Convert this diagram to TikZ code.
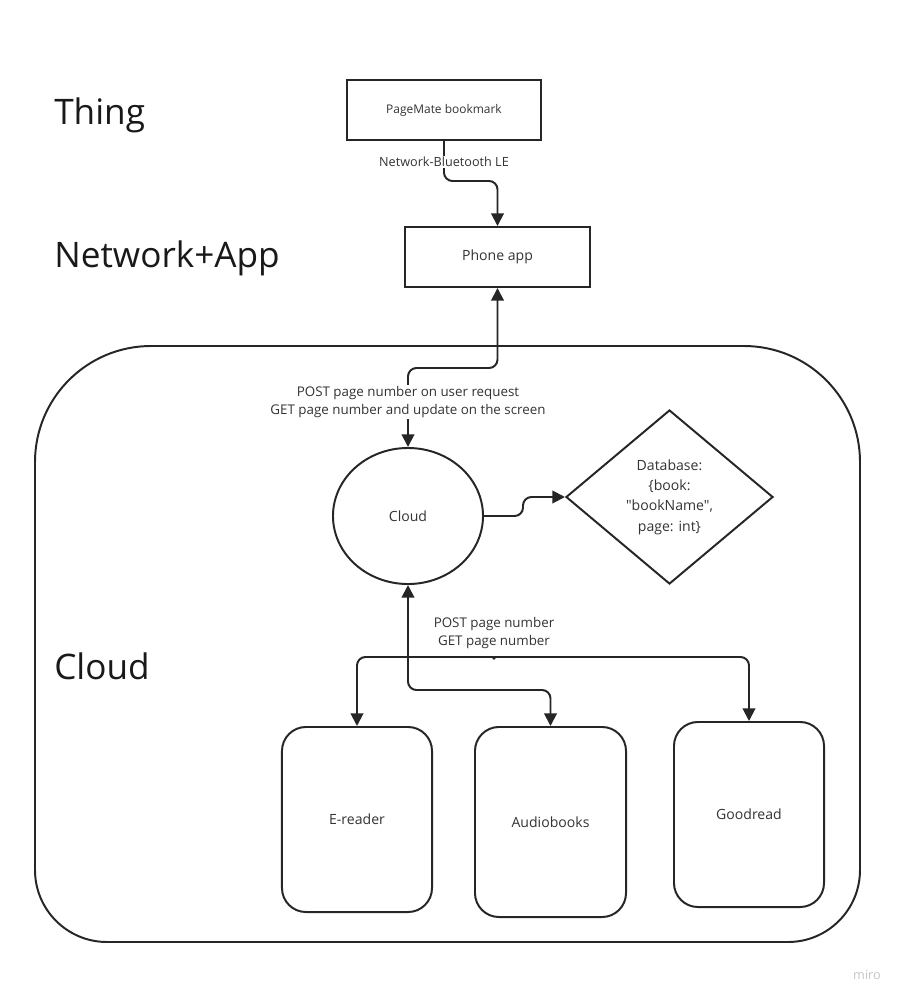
\documentclass[tikz,border=0pt]{standalone}
\usepackage{fontspec}
\setmainfont{Open Sans}[Ligatures=TeXOff]
\usepackage{tikz}
\usetikzlibrary{arrows.meta, positioning, shapes.geometric, calc}
\definecolor{mline}{HTML}{262626}
\definecolor{mtext}{HTML}{333333}
\definecolor{mwater}{HTML}{C4C4C4}
\tikzset{
  sqbox/.style={draw=mline, line width=1.4pt, fill=white, text=mtext, inner sep=0pt,
                font=\fontsize{10}{13}\selectfont},
  rbox/.style={draw=mline, line width=1.4pt, rounded corners=0.6cm, text=mtext,
               minimum width=3.75cm, minimum height=4.625cm, inner sep=0pt,
               font=\fontsize{10}{13}\selectfont},
  cnode/.style={draw=mline, line width=1.4pt, ellipse, text=mtext, inner sep=0pt,
                minimum width=3.75cm, minimum height=3.4cm, font=\fontsize{10}{13}\selectfont},
  dnode/.style={draw=mline, line width=1.4pt, diamond, text=mtext, inner sep=0pt, align=center,
                minimum width=5.175cm, minimum height=4.35cm, font=\fontsize{10}{14.5}\selectfont},
  arr/.style={-{Triangle[length=9pt,width=9pt]}, line width=1.4pt, mline, rounded corners=6pt},
  darr/.style={{Triangle[length=9pt,width=9pt]}-{Triangle[length=9pt,width=9pt]},
               line width=1.4pt, mline, rounded corners=6pt},
  lbl/.style={fill=white, text=mtext, align=center, inner sep=1pt,
              font=\fontsize{9.5}{12.8}\selectfont},
  heading/.style={anchor=base west, inner sep=0pt, text=black!90,
                  font=\fontsize{25}{30}\selectfont},
}

\begin{document}
\begin{tikzpicture}[x=0.025cm, y=-0.025cm]
  \useasboundingbox (0,0) rectangle (902,1001);

  % layer headings
  \node[heading] (hthing) at (54,124.5) {Thing};
  \node[heading] (hnet) at (54,267.5) {Network+App};
  \node[heading] (hcloud) at (54,679.5) {Cloud};

  % cloud container
  \draw[line width=1.4pt, mline, rounded corners=2.9cm]
    (35,700) -- (35,346) -- (860,346) -- (860,700)
    [rounded corners=1.8cm] -- (860,942) -- (35,942) -- cycle;

  % thing + app
  \node[sqbox, minimum width=4.85cm, minimum height=1.5cm,
        font=\fontsize{8.5}{11}\selectfont] (bm) at (444,110) {PageMate bookmark};
  \node[sqbox, minimum width=4.625cm, minimum height=1.5cm] (phone) at (497.5,257) {Phone app};
  \draw[arr] (bm.south) -- (444,181) -| (phone.north);
  \node[lbl, font=\fontsize{9}{12}\selectfont] (ble) at (444,162) {Network-Bluetooth LE};

  % cloud + database
  \node[cnode] (cloud) at (408,516) {Cloud};
  \node[dnode] (db) at (669.5,497) {Database:\\\{book:\\"bookName",\\page: int\}};
  \draw[darr] (phone.south) -- (497.5,368) -| (cloud.north);
  \node[lbl] (reqlbl) at (408,402)
    {POST page number on user request\\GET page number and update on the screen};
  \draw[arr] (cloud.east) -- (523,516) |- (db.west);

  % services
  \node[rbox] (ereader) at (357,819.5) {E-reader};
  \node[rbox, minimum width=3.775cm, minimum height=4.75cm] (audio) at (550.5,822) {Audiobooks};
  \node[rbox] (goodread) at (749,814.5) {Goodread};

  \coordinate (split) at (408,657);
  \draw[arr] (split) -- (cloud.south);
  \draw[arr] (split) -| (ereader.north);
  \draw[arr] (split) -| (goodread.north);
  \draw[arr] (split) -- (408,690) -| (audio.north);
  \node[circle, fill=mline, inner sep=0.9pt] (mid) at (494,658) {};
  \node[lbl, fill=none] (synclbl) at (494,633) {POST page number\\GET page number};

  \node[text=mwater, font=\fontsize{9}{11}\selectfont] (miro) at (867,975) {miro};
\end{tikzpicture}
\end{document}
